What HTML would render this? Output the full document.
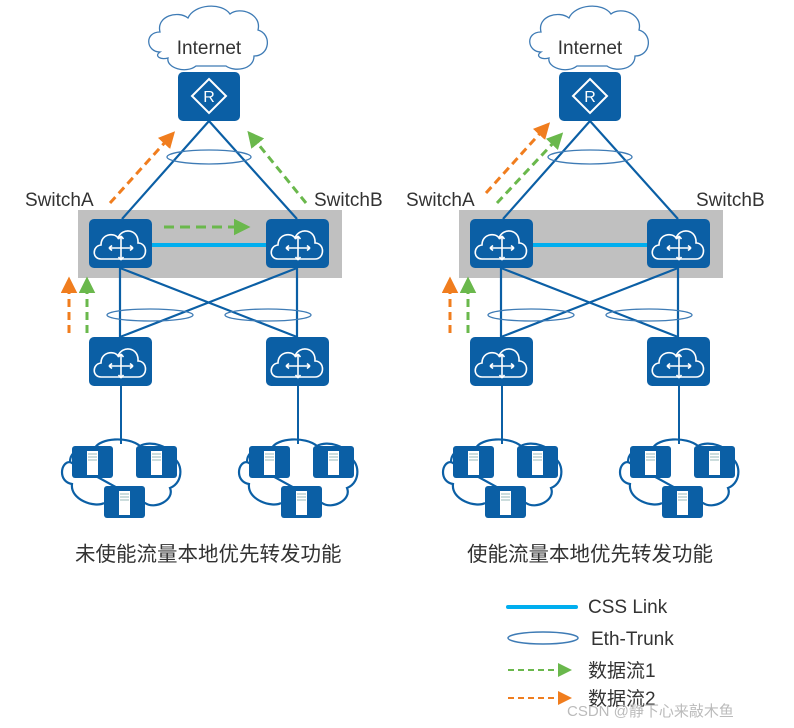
<!DOCTYPE html>
<html><head><meta charset="utf-8"><style>
html,body{margin:0;padding:0;background:#fff;}
svg{display:block;}
text{font-family:"Liberation Sans","Noto Sans CJK SC",sans-serif;fill:#333;}
</style></head><body>
<svg width="794" height="728" viewBox="0 0 794 728" xmlns="http://www.w3.org/2000/svg">
<defs>
<marker id="ag" markerWidth="5.5" markerHeight="5.5" refX="2" refY="2.75" orient="auto" markerUnits="strokeWidth"><path d="M0,0 L5.5,2.75 L0,5.5 z" fill="#6ab84c"/></marker>
<marker id="ao" markerWidth="5.5" markerHeight="5.5" refX="2" refY="2.75" orient="auto" markerUnits="strokeWidth"><path d="M0,0 L5.5,2.75 L0,5.5 z" fill="#f07d1e"/></marker>
<marker id="ag2" markerWidth="7" markerHeight="7" refX="3" refY="3.5" orient="auto" markerUnits="strokeWidth"><path d="M0,0 L7,3.5 L0,7 z" fill="#6ab84c"/></marker>
<marker id="ao2" markerWidth="7" markerHeight="7" refX="3" refY="3.5" orient="auto" markerUnits="strokeWidth"><path d="M0,0 L7,3.5 L0,7 z" fill="#f07d1e"/></marker>
<g id="sw">
<rect x="0" y="0" width="63" height="49" rx="5" fill="#0b5fa5"/>
<path d="M12,40 C3,40 3,27 12,26 C12,15 25,13 29,19 C33,8 50,10 49,24 C59,24 59,40 49,40 Z" fill="none" stroke="#fff" stroke-width="1.6"/>
<path d="M20,29 H44 M32,17 V41 M20,29 l3,-2.5 M20,29 l3,2.5 M44,29 l-3,-2.5 M44,29 l-3,2.5 M32,17 l-2.5,3 M32,17 l2.5,3 M32,41 l-2.5,-3 M32,41 l2.5,-3" stroke="#fff" stroke-width="1.6" fill="none"/>
</g>
<g id="srv">
<rect x="0" y="0" width="41" height="32" rx="3" fill="#0b5fa5"/>
<rect x="15" y="5" width="11" height="24" fill="#fff"/>
<path d="M16,8 H25 M16,11 H25 M16,14 H25" stroke="#9bb" stroke-width="1"/>
</g>
<g id="scl">
<path d="M70,462 C60,462 58,482 72,484 C70,500 95,508 104,503 M145,503 C155,510 175,500 170,488 C185,482 182,460 172,458 C172,446 150,440 140,446 C128,436 100,438 95,448 C80,446 70,452 70,462 Z" fill="none" stroke="#0b5fa5" stroke-width="2.2"/>
<use href="#srv" x="72" y="446"/>
<use href="#srv" x="136" y="446"/>
<use href="#srv" x="104" y="486"/>
</g>
<g id="panel">
<path d="M160,52 C146,52 144,32 160,32 C156,16 178,10 188,18 C194,4 222,2 230,14 C240,6 262,14 258,30 C272,34 270,56 254,56 C254,70 234,72 226,66 L196,66 C186,74 166,68 168,58 C160,60 154,56 160,52 Z" fill="#fff" stroke="#3e7bb5" stroke-width="1.3"/>
<rect x="178" y="72" width="62" height="49" rx="5" fill="#0b5fa5"/>
<path d="M209,79 L226,96 L209,113 L192,96 Z" fill="none" stroke="#fff" stroke-width="2"/>
<rect x="78" y="210" width="264" height="68" fill="#c0c0c0"/>
<path d="M209,121 L122,219 M209,121 L297,219" stroke="#0b5fa5" stroke-width="2.2" fill="none"/>
<ellipse cx="209" cy="157" rx="42" ry="7" fill="none" stroke="#3e7bb5" stroke-width="1.3"/>
<line x1="152" y1="245" x2="266" y2="245" stroke="#00aeef" stroke-width="4"/>
<use href="#sw" x="89" y="219"/>
<use href="#sw" x="266" y="219"/>
<path d="M120,268 V337 M297,268 V337 M120,268 L297,337 M297,268 L120,337" stroke="#0b5fa5" stroke-width="2.2" fill="none"/>
<ellipse cx="150" cy="315" rx="43" ry="6" fill="none" stroke="#3e7bb5" stroke-width="1.3"/>
<ellipse cx="268" cy="315" rx="43" ry="6" fill="none" stroke="#3e7bb5" stroke-width="1.3"/>
<use href="#sw" x="89" y="337"/>
<use href="#sw" x="266" y="337"/>
<path d="M121,386 V444 M298,386 V444" stroke="#0b5fa5" stroke-width="2"/>
<use href="#scl"/>
<use href="#scl" x="177"/>
<line x1="69" y1="333" x2="69" y2="287" stroke="#f07d1e" stroke-width="3" stroke-dasharray="8,5" marker-end="url(#ao)"/>
<line x1="87" y1="333" x2="87" y2="287" stroke="#6ab84c" stroke-width="3" stroke-dasharray="8,5" marker-end="url(#ag)"/>
</g>
</defs>
<use href="#panel"/>
<use href="#panel" x="381"/>
<line x1="110" y1="203" x2="168" y2="139" stroke="#f07d1e" stroke-width="3" stroke-dasharray="8,5" marker-end="url(#ao)"/>
<line x1="306" y1="203" x2="254" y2="139" stroke="#6ab84c" stroke-width="3" stroke-dasharray="8,5" marker-end="url(#ag)"/>
<line x1="164" y1="227" x2="240" y2="227" stroke="#6ab84c" stroke-width="3" stroke-dasharray="10,6" marker-end="url(#ag)"/>
<line x1="486" y1="193" x2="543" y2="130" stroke="#f07d1e" stroke-width="3" stroke-dasharray="8,5" marker-end="url(#ao)"/>
<line x1="497" y1="203" x2="556" y2="140" stroke="#6ab84c" stroke-width="3" stroke-dasharray="8,5" marker-end="url(#ag)"/>
<text x="209" y="54" font-size="19" text-anchor="middle">Internet</text>
<text x="590" y="54" font-size="19" text-anchor="middle">Internet</text>
<text x="209" y="102" font-size="16" text-anchor="middle" style="fill:#fff">R</text>
<text x="590" y="102" font-size="16" text-anchor="middle" style="fill:#fff">R</text>
<text x="25" y="206" font-size="19">SwitchA</text>
<text x="314" y="206" font-size="19">SwitchB</text>
<text x="406" y="206" font-size="19">SwitchA</text>
<text x="696" y="206" font-size="19">SwitchB</text>
<text x="75" y="561" font-size="20.5">未使能流量本地优先转发功能</text>
<text x="467" y="561" font-size="20.5">使能流量本地优先转发功能</text>
<line x1="508" y1="607" x2="576" y2="607" stroke="#00aeef" stroke-width="4" stroke-linecap="round"/>
<text x="588" y="613" font-size="19">CSS Link</text>
<ellipse cx="543" cy="638" rx="35" ry="6" fill="none" stroke="#3e7bb5" stroke-width="1.5"/>
<text x="591" y="645" font-size="19">Eth-Trunk</text>
<line x1="508" y1="670" x2="564" y2="670" stroke="#6ab84c" stroke-width="2" stroke-dasharray="6,4" marker-end="url(#ag2)"/>
<text x="588" y="677" font-size="19">数据流1</text>
<line x1="508" y1="698" x2="564" y2="698" stroke="#f07d1e" stroke-width="2" stroke-dasharray="6,4" marker-end="url(#ao2)"/>
<text x="588" y="705" font-size="19">数据流2</text>
<text x="567" y="716" font-size="15" style="fill:#bbb">CSDN @静下心来敲木鱼</text>
</svg>
</body></html>
